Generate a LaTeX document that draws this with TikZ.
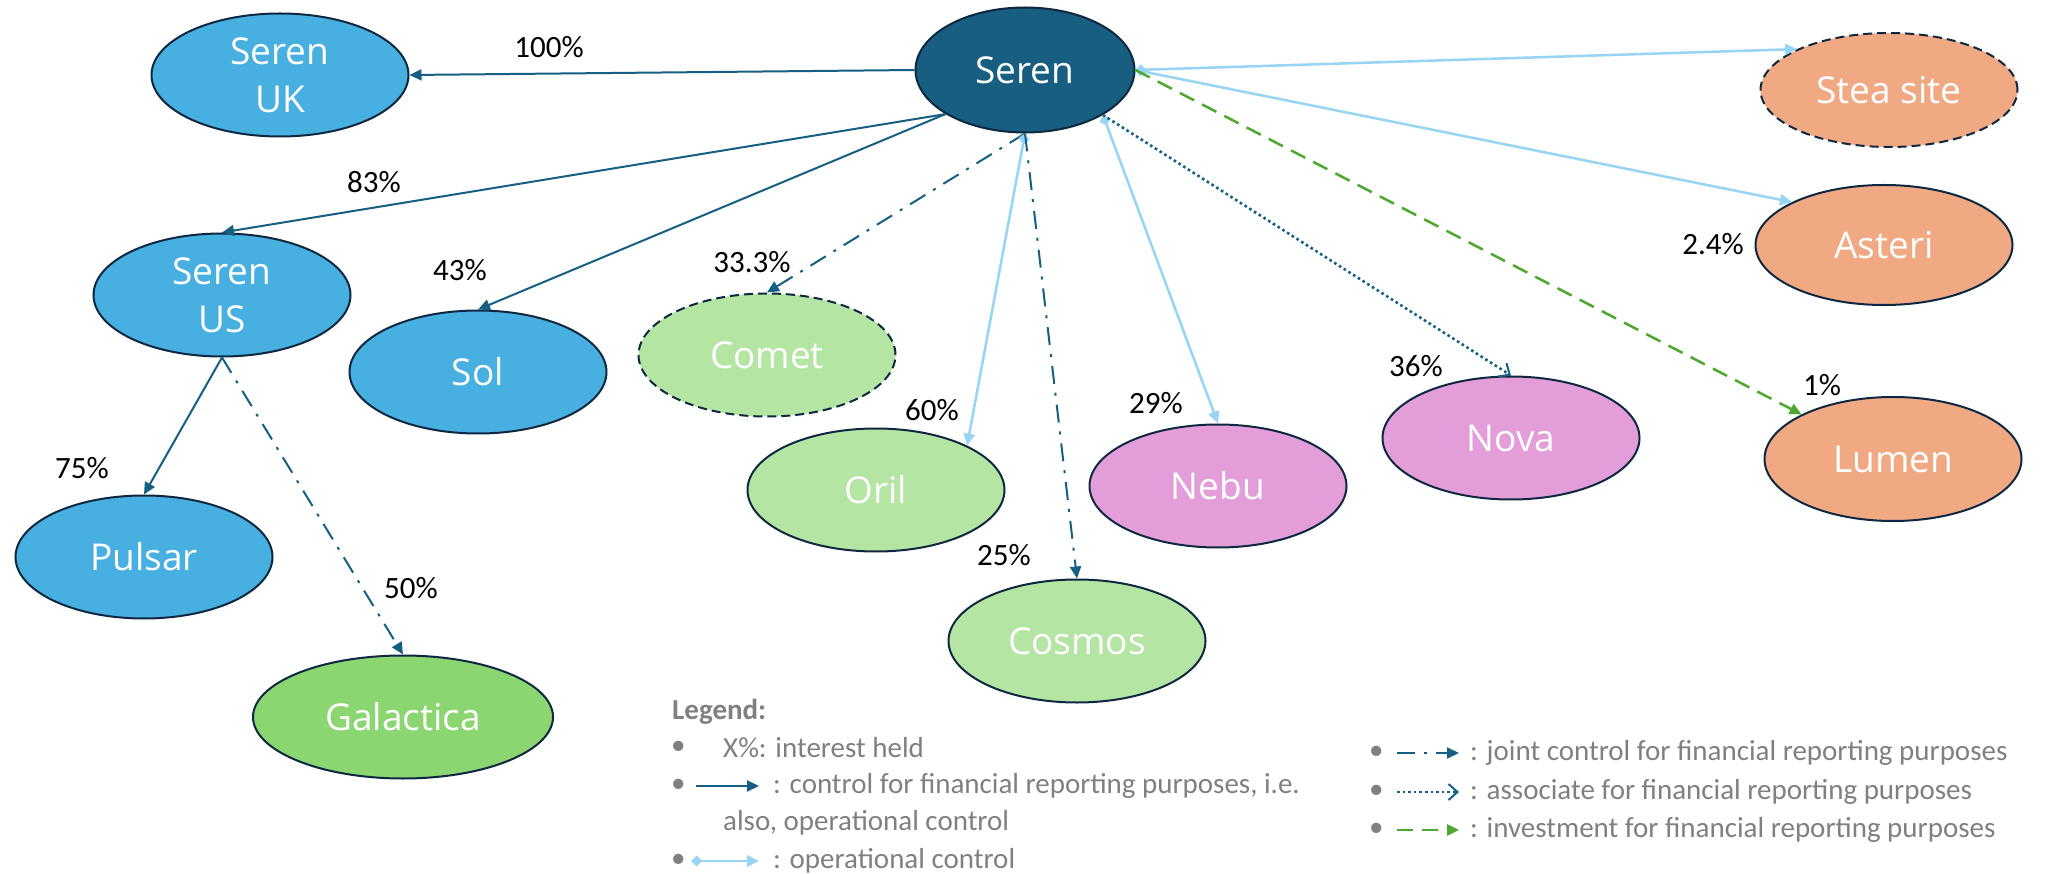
\documentclass[tikz,border=0pt]{standalone}
\usepackage{fontspec}
\setmainfont{Carlito}
\newfontfamily\nodefont{Open Sans}
\usetikzlibrary{arrows.meta,shapes.geometric}
\definecolor{SerenDark}{RGB}{23,94,128}
\definecolor{NodeBlue}{RGB}{71,176,224}
\definecolor{LightGreen}{RGB}{180,229,162}
\definecolor{MidGreen}{RGB}{140,214,114}
\definecolor{PinkFill}{RGB}{227,158,218}
\definecolor{OrangeFill}{RGB}{241,169,131}
\definecolor{BorderCol}{RGB}{14,40,65}
\definecolor{ArrowDark}{RGB}{21,96,130}
\definecolor{LightBlue}{RGB}{150,213,245}
\definecolor{GreenArrow}{RGB}{78,167,46}
\definecolor{LegendGray}{RGB}{128,128,128}
\begin{document}
\begin{tikzpicture}[x=1pt,y=-1pt,
  ent/.style={ellipse, draw=BorderCol, line width=2pt, minimum width=257pt, minimum height=123pt,
    inner sep=0pt, text=white, font=\nodefont\fontsize{37}{48}\selectfont, align=center},
  dashedent/.style={ent, dash pattern=on 9pt off 5pt},
  pct/.style={font=\fontsize{31}{34}\selectfont, text=black, inner sep=0pt},
  ctrl/.style={draw=ArrowDark, line width=2pt, -{Triangle[length=12pt,width=11pt]}},
  opc/.style={draw=LightBlue, line width=2.5pt, {Diamond[length=11pt,width=11pt]}-{Triangle[length=12pt,width=11pt]}},
  joint/.style={draw=ArrowDark, line width=2pt, dash pattern=on 18pt off 9pt on 3pt off 9pt, -{Triangle[length=12pt,width=11pt]}},
  assoc/.style={draw=ArrowDark, line width=2.6pt, dash pattern=on 2.6pt off 3pt, -{Straight Barb[length=9pt,width=16pt,line width=2pt]}},
  inv/.style={draw=GreenArrow, line width=2.5pt, dash pattern=on 16pt off 9pt, -{Triangle[length=12pt,width=11pt]}},
  leg/.style={font=\fontsize{29}{32}\selectfont, text=LegendGray, anchor=west, inner sep=0pt},
]
\useasboundingbox[fill=white] (0,0) rectangle (2065,874);

% entities
\node[ent, fill=SerenDark, minimum width=219pt, minimum height=125pt] (seren) at (1025,70) {Seren};
\node[ent, fill=NodeBlue] (serenuk) at (280,75) {Seren\\UK};
\node[ent, fill=NodeBlue] (serenus) at (222,295) {Seren\\US};
\node[ent, fill=NodeBlue] (sol) at (478,372) {Sol};
\node[ent, fill=NodeBlue] (pulsar) at (144,557) {Pulsar};
\node[ent, fill=MidGreen, minimum width=300pt] (galactica) at (403,717) {Galactica};
\node[dashedent, fill=LightGreen] (comet) at (767,355) {Comet};
\node[ent, fill=LightGreen] (oril) at (876,490) {Oril};
\node[ent, fill=LightGreen] (cosmos) at (1077,641) {Cosmos};
\node[ent, fill=PinkFill] (nebu) at (1218,486) {Nebu};
\node[ent, fill=PinkFill] (nova) at (1511,438) {Nova};
\node[dashedent, fill=OrangeFill, minimum height=114pt] (stea) at (1889,90) {Stea site};
\node[ent, fill=OrangeFill, minimum height=120pt] (asteri) at (1884,245) {Asteri};
\node[ent, fill=OrangeFill, minimum height=124pt] (lumen) at (1893,459) {Lumen};

% connectors
\draw[ctrl] (seren.west) -- (serenuk.east);
\draw[ctrl] (seren.209.6) -- (serenus.north);
\draw[ctrl] (seren.209.6) -- (sol.north);
\draw[ctrl] (serenus.south) -- (pulsar.north);
\draw[joint] (serenus.south) -- (galactica.north);
\draw[joint] (seren.south) -- (comet.north);
\draw[opc] (seren.south) -- (oril.26);
\draw[joint] (seren.south) -- (cosmos.north);
\draw[opc] (seren.330.4) -- (nebu.north);
\draw[assoc] (seren.330.4) -- (nova.north);
\draw[opc] (seren.east) -- (stea.156.5);
\draw[opc] (seren.east) -- (asteri.155);
\draw[inv] (seren.east) -- (lumen.154.3);

% percentages
\node[pct] (p100) at (549,47) {100\%};
\node[pct] (p83) at (374,182) {83\%};
\node[pct] (p43) at (460,270) {43\%};
\node[pct] (p75) at (82,468) {75\%};
\node[pct] (p50) at (411,588) {50\%};
\node[pct] (p33) at (752,262) {33.3\%};
\node[pct] (p60) at (932,410) {60\%};
\node[pct] (p25) at (1004,555) {25\%};
\node[pct] (p29) at (1156,403) {29\%};
\node[pct] (p36) at (1416,366) {36\%};
\node[pct] (p24) at (1713,244) {2.4\%};
\node[pct] (p1) at (1822,385) {1\%};

% legend left
\node[leg, font=\bfseries\fontsize{29}{32}\selectfont] (legtitle) at (672,712) {Legend:};
\node[leg] (b1) at (671,748) {\textbullet};
\node[leg] (t1) at (723,748) {X\%: interest held};
\node[leg] (b2) at (671,786) {\textbullet};
\coordinate (a2s) at (696,786); \coordinate (a2e) at (759,786);
\draw[ctrl] (a2s) -- (a2e);
\node[leg] (t2) at (773,786) {: control for financial reporting purposes, i.e.};
\node[leg] (t3) at (723,823) {also, operational control};
\node[leg] (b4) at (671,861) {\textbullet};
\coordinate (a4s) at (691,861); \coordinate (a4e) at (759,861);
\draw[opc] (a4s) -- (a4e);
\node[leg] (t4) at (773,861) {: operational control};

% legend right
\node[leg] (b5) at (1369,753) {\textbullet};
\coordinate (a5s) at (1397,753); \coordinate (a5e) at (1459,753);
\draw[joint] (a5s) -- (a5e);
\node[leg] (t5) at (1470,753) {: joint control for financial reporting purposes};
\node[leg] (b6) at (1369,792) {\textbullet};
\coordinate (a6s) at (1397,792); \coordinate (a6e) at (1459,792);
\draw[assoc] (a6s) -- (a6e);
\node[leg] (t6) at (1470,792) {: associate for financial reporting purposes};
\node[leg] (b7) at (1369,830) {\textbullet};
\coordinate (a7s) at (1397,830); \coordinate (a7e) at (1459,830);
\draw[inv] (a7s) -- (a7e);
\node[leg] (t7) at (1470,830) {: investment for financial reporting purposes};
\end{tikzpicture}
\end{document}
